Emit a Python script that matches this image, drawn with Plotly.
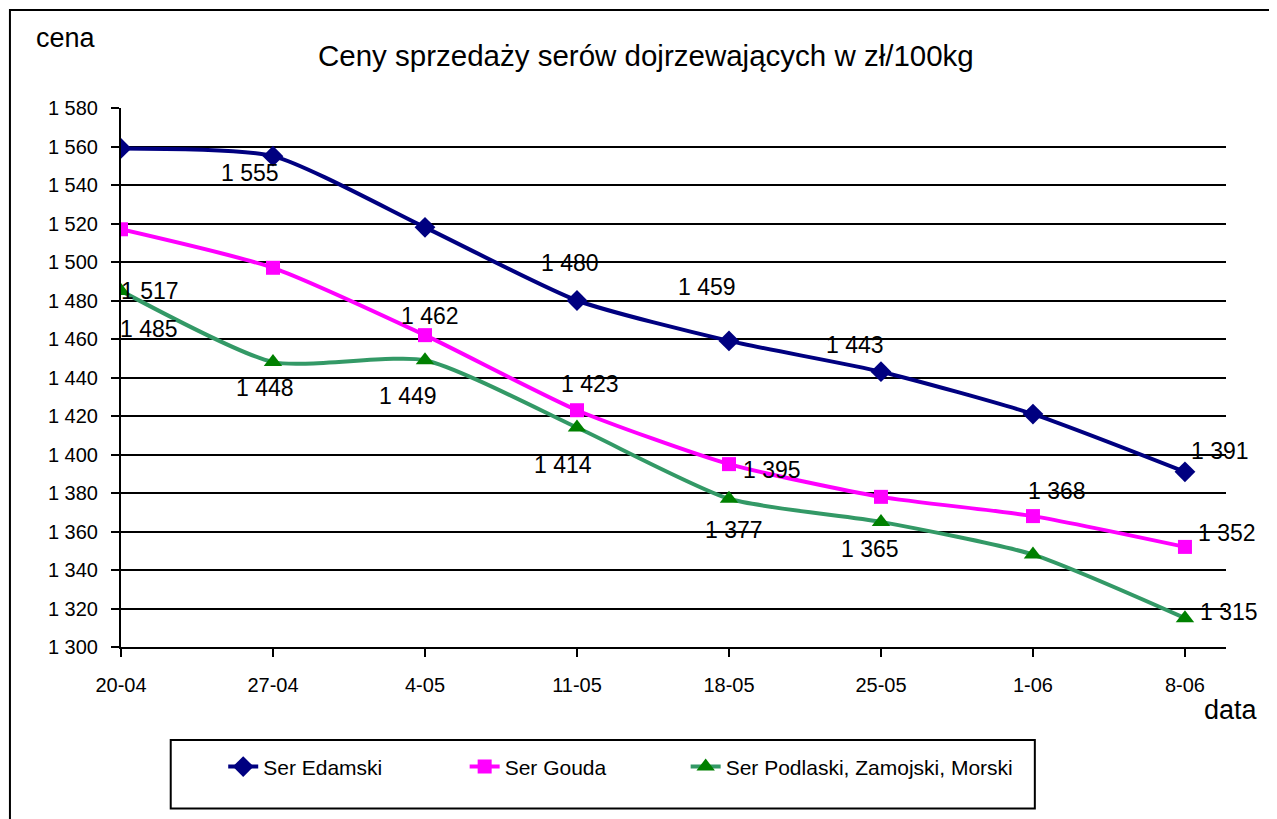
import plotly.graph_objects as go

dates = ["20-04", "27-04", "4-05", "11-05", "18-05", "25-05", "1-06", "8-06"]
edamski = [1559, 1555, 1518, 1480, 1459, 1443, 1421, 1391]
gouda = [1517, 1497, 1462, 1423, 1395, 1378, 1368, 1352]
podlaski = [1485, 1448, 1449, 1414, 1377, 1365, 1348, 1315]

names = ["Ser Edamski", "Ser Gouda", "Ser Podlaski, Zamojski, Morski"]

# which points carry a visible data label, and label offsets in px (dx, dy up)
edam_lbl = [None, (-23, -17), None, (-7, 38), (-22, 54), (-26, 27), None, (35, 21)]
gouda_lbl = [(29, -62), None, (5, 19), (13, 26), (43, -6), None, (24, 25), (42, 14)]
podl_lbl = [(28, -38), (-8, -26), (-17, -36), (-14, -37), (5, -31), (-11, -27), None, (44, 6)]

FONT = "Liberation Sans, Arial, sans-serif"

fig = go.Figure()
series = [
    (edamski, names[0], "#000080", "#000080", "diamond", 16, edam_lbl, "legend", 0.0925),
    (gouda, names[1], "#FF00FF", "#FF00FF", "square", 14, gouda_lbl, "legend2", 0.311),
    (podlaski, names[2], "#339966", "#008000", "triangle-up", 16, podl_lbl, "legend3", 0.511),
]
legend_cfg = {}
for vals, nm, lc, mc, sym, ms, _, lg, lx in series:
    fig.add_trace(go.Scatter(
        x=dates, y=vals, name=nm, mode="lines+markers", legend=lg,
        line=dict(color=lc, width=4, shape="spline", smoothing=0.6),
        marker=dict(symbol=sym, size=ms, color=mc),
    ))
    legend_cfg[lg] = dict(orientation="h", x=lx, y=-0.2225, xanchor="left", yanchor="middle",
                          font=dict(size=21, color="black", family=FONT),
                          bgcolor="rgba(0,0,0,0)", borderwidth=0)

def fmt(v):
    return f"{v:,}".replace(",", " ")

annotations = []
for vals, _, _, _, _, _, lbls, _, _ in series:
    for d, v, off in zip(dates, vals, lbls):
        if off is None:
            continue
        annotations.append(dict(
            x=d, y=v, xref="x", yref="y", text=fmt(v), showarrow=False,
            xshift=off[0], yshift=off[1], font=dict(size=23, color="black", family=FONT),
        ))

annotations.append(dict(x=-0.05, y=1.13, xref="paper", yref="paper", text="cena",
                        showarrow=False, font=dict(size=27, color="black", family=FONT),
                        xanchor="center", yanchor="middle"))
annotations.append(dict(x=1.0045, y=-0.117, xref="paper", yref="paper", text="data",
                        showarrow=False, font=dict(size=27, color="black", family=FONT),
                        xanchor="center", yanchor="middle"))

shapes = [
    dict(type="rect", xref="paper", yref="paper", x0=-0.1005, x1=1.0407, y0=-0.4, y1=1.1818,
         line=dict(color="black", width=2), fillcolor="rgba(0,0,0,0)"),
    dict(type="rect", xref="paper", yref="paper", x0=0.045, x1=0.827, y0=-0.2996, y1=-0.1725,
         line=dict(color="black", width=2), fillcolor="rgba(0,0,0,0)"),
]

fig.update_layout(
    width=1277, height=819,
    margin=dict(l=113, r=59, t=100, b=180),
    paper_bgcolor="white", plot_bgcolor="white",
    separators=", ",
    font=dict(family=FONT, color="black"),
    title=dict(text="Ceny sprzedaży serów dojrzewających w zł/100kg", x=0.4995, xanchor="center",
               y=0.9415, yanchor="middle", font=dict(size=29.5, color="black", family=FONT)),
    showlegend=True,
    annotations=annotations,
    shapes=shapes,
    **legend_cfg,
)
fig.update_xaxes(type="category", range=[0, 7.27], showgrid=False, showline=True,
                 linecolor="black", linewidth=2, ticks="outside", ticklen=8, tickwidth=2,
                 tickcolor="black", tickfont=dict(size=20, family=FONT), ticklabelstandoff=11,
                 zeroline=False)
fig.update_yaxes(range=[1300, 1580], dtick=20, tickformat=",d", showgrid=True,
                 gridcolor="black", gridwidth=2, showline=True, linecolor="black",
                 linewidth=2, ticks="outside", ticklen=8, tickwidth=2, tickcolor="black",
                 tickfont=dict(size=20, family=FONT), ticklabelstandoff=9, zeroline=False)

fig.write_html("out.html")
